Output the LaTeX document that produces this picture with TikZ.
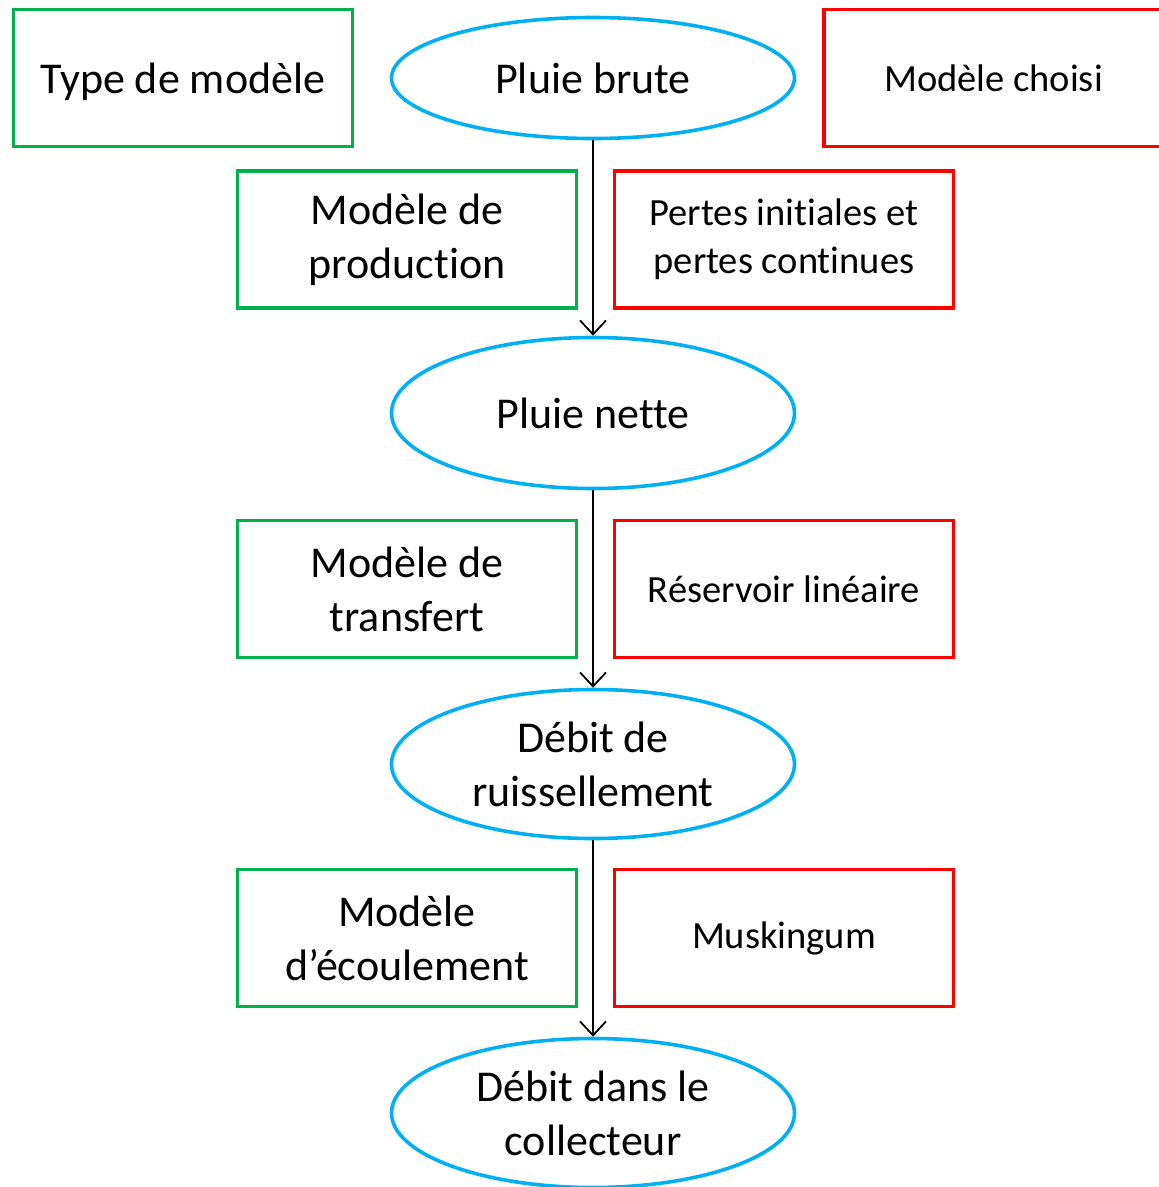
\documentclass[tikz,border=0pt]{standalone}
\usepackage{fontspec}
\setmainfont{Carlito}[Ligatures={NoCommon}]
\usetikzlibrary{shapes.geometric,arrows.meta}
\definecolor{gbox}{HTML}{00B050}
\definecolor{rbox}{HTML}{FF0000}
\definecolor{bell}{HTML}{00B0F0}
\tikzset{
  greenbox/.style={draw=gbox,line width=3.2pt,minimum width=339pt,minimum height=137pt,inner sep=0pt,align=center,font=\fontsize{44}{54}\selectfont},
  redbox/.style={draw=rbox,line width=3.2pt,minimum width=339pt,minimum height=137pt,inner sep=0pt,align=center,font=\fontsize{38.5}{48}\selectfont},
  blueell/.style={ellipse,draw=bell,line width=3.6pt,minimum width=403pt,inner sep=0pt,align=center,font=\fontsize{44}{54}\selectfont},
  flow/.style={draw=black,line width=1.8pt,-{Straight Barb[length=14pt,width=26pt,line width=1.8pt]}}
}
\begin{document}
\begin{tikzpicture}[x=1pt,y=-1pt]
\useasboundingbox (0,0) rectangle (1159,1187);
\clip (0,0) rectangle (1159,1187);
\node[greenbox,text depth=0pt] (type) at (183,78) {Type de modèle};
\node[blueell,minimum height=121pt] (e1) at (593,78) {Pluie brute};
\node[redbox] (choisi) at (993.5,78) {Modèle choisi};

\node[greenbox] (g2) at (407,239.5) {Modèle de\\production};
\node[redbox] (r2) at (784,239.5) {Pertes initiales et\\pertes continues};
\node[blueell,minimum height=151pt] (e2) at (593,413) {Pluie nette};

\node[greenbox] (g3) at (407,589) {Modèle de\\transfert};
\node[redbox] (r3) at (784,589) {Réservoir linéaire};
\node[blueell,minimum height=149pt] (e3) at (593,764) {Débit de\\ruissellement};

\node[greenbox] (g4) at (407,938) {Modèle\\d’écoulement};
\node[redbox] (r4) at (784,938) {Muskingum};
\node[blueell,minimum height=149pt] (e4) at (593,1113) {Débit dans le\\collecteur};

\draw[flow] (e1.south) -- (e2.north);
\draw[flow] (e2.south) -- (e3.north);
\draw[flow] (e3.south) -- (e4.north);
\end{tikzpicture}
\end{document}
